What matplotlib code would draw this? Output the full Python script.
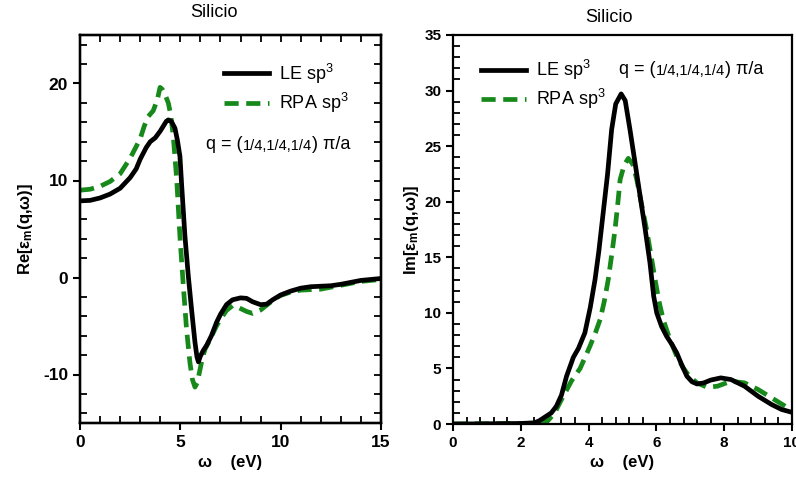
import numpy as np
import matplotlib
matplotlib.use("Agg")
import matplotlib.pyplot as plt
from matplotlib.ticker import MultipleLocator

plt.rcParams['font.family'] = ['Liberation Sans', 'DejaVu Sans']
plt.rcParams['mathtext.fontset'] = 'custom'
plt.rcParams['mathtext.rm'] = 'Liberation Sans'
plt.rcParams['mathtext.it'] = 'Liberation Sans:italic'
plt.rcParams['mathtext.bf'] = 'Liberation Sans:bold'
plt.rcParams['axes.unicode_minus'] = False

# Parte real - LE sp3
re_le_w = [0, 0.5, 1, 1.5, 2, 2.5, 2.8, 3.0, 3.3, 3.5, 3.75, 4.0, 4.15, 4.3, 4.4, 4.55, 4.73,
           4.85, 4.98, 5.07, 5.23, 5.4, 5.56, 5.73, 5.83, 5.9, 6.0, 6.15, 6.31, 6.55, 6.81, 7.0,
           7.3, 7.6, 8.0, 8.3, 8.6, 9.0, 9.3, 9.6, 10, 10.5, 11, 11.5, 12, 12.5, 13, 13.5, 14,
           14.5, 15]
re_le = [7.9, 7.95, 8.2, 8.6, 9.2, 10.3, 11.2, 12.2, 13.4, 14.0, 14.4, 15.1, 15.6, 16.1, 16.25,
         16.1, 15.4, 14.2, 12.5, 9.4, 4.25, 0.1, -3.3, -6.7, -8.2, -8.7, -8.1, -7.5, -7.0, -6.0,
         -4.6, -3.8, -2.8, -2.3, -2.1, -2.15, -2.5, -2.8, -2.75, -2.3, -1.8, -1.4, -1.1, -0.95,
         -0.9, -0.85, -0.7, -0.5, -0.3, -0.2, -0.1]

# Parte real - RPA sp3
re_rpa_w = [0, 0.5, 1, 1.5, 2, 2.5, 2.8, 3.0, 3.2, 3.4, 3.65, 3.85, 3.99, 4.1, 4.25, 4.4, 4.52,
            4.65, 4.82, 4.98, 5.15, 5.31, 5.48, 5.6, 5.73, 5.85, 5.98, 6.1, 6.23, 6.5, 6.8, 7.0,
            7.3, 7.6, 7.8, 8.0, 8.3, 8.6, 9.0, 9.4, 9.7, 10, 10.5, 11, 11.5, 12, 12.5, 13, 13.5,
            14, 14.5, 15]
re_rpa = [9.0, 9.1, 9.4, 9.9, 10.7, 12.3, 13.5, 14.3, 15.6, 16.6, 17.2, 18.3, 19.6, 19.4, 18.8,
          18.0, 16.8, 14.5, 10.1, 4.25, -0.9, -5.35, -8.8, -10.5, -11.3, -10.8, -9.5, -8.3, -7.4,
          -6.3, -5.0, -4.3, -3.4, -2.9, -3.0, -3.2, -3.5, -3.7, -3.35, -2.7, -2.2, -1.85, -1.5,
          -1.3, -1.25, -1.2, -1.0, -0.8, -0.6, -0.4, -0.3, -0.2]

# Parte imaginaria - LE sp3
im_le_w = [0, 1, 2, 2.4, 2.55, 2.7, 2.9, 3.05, 3.2, 3.35, 3.55, 3.7, 3.89, 4.05, 4.19, 4.3,
           4.43, 4.56, 4.68, 4.8, 4.96, 5.08, 5.22, 5.37, 5.52, 5.67, 5.81, 5.92, 6.01, 6.15,
           6.3, 6.45, 6.6, 6.75, 6.9, 7.05, 7.2, 7.4, 7.6, 7.9, 8.2, 8.6, 9.0, 9.4, 9.7, 10]
im_le = [0.0, 0.02, 0.05, 0.1, 0.3, 0.6, 1.0, 1.6, 2.6, 4.3, 6.0, 6.8, 8.2, 10.5, 13.0, 15.5,
         19.0, 22.5, 26.5, 28.8, 29.7, 29.1, 26.5, 23.5, 20.5, 17.5, 14.5, 11.5, 10.0, 8.8, 7.9,
         7.2, 6.4, 5.3, 4.3, 3.8, 3.6, 3.7, 3.95, 4.15, 4.0, 3.4, 2.5, 1.75, 1.3, 1.05]

# Parte imaginaria - RPA sp3
im_rpa_w = [0, 1, 2, 2.6, 2.8, 3.0, 3.2, 3.5, 3.75, 4.04, 4.2, 4.34, 4.46, 4.58, 4.68, 4.78,
            4.86, 4.93, 5.05, 5.17, 5.3, 5.42, 5.56, 5.71, 5.84, 5.96, 6.08, 6.2, 6.4, 6.6, 6.8,
            7.0, 7.2, 7.5, 7.8, 8.2, 8.6, 9.0, 9.4, 9.8, 10]
im_rpa = [0.0, 0.02, 0.04, 0.1, 0.3, 1.0, 2.2, 3.9, 5.0, 7.0, 8.2, 9.4, 11.0, 13.0, 15.2, 17.5,
          19.8, 22.0, 23.3, 23.9, 23.4, 22.0, 19.8, 17.5, 15.2, 13.0, 11.0, 9.4, 7.6, 6.1, 5.0,
          4.2, 3.7, 3.3, 3.4, 3.85, 3.7, 3.1, 2.35, 1.6, 1.3]

verde = '#16891a'
W, H = 796, 488

fig = plt.figure(figsize=(W / 100, H / 100), dpi=100)


def eixos(l, r, t, b):
    return fig.add_axes([l / W, (H - b) / H, (r - l) / W, (b - t) / H])


def q_texto(ax, x, y):
    t1 = ax.text(x, y, "q = (", transform=ax.transAxes, fontsize=13, va='baseline')
    t2 = ax.annotate("1/4,1/4,1/4", xy=(1, 0), xycoords=t1, fontsize=10.5, va='bottom')
    ax.annotate(") π/a", xy=(1, 0), xycoords=t2, fontsize=13, va='bottom')


def estilo(ax, xmaj, xmin, ymaj, ymin, lsize, lados):
    for s in ax.spines.values():
        s.set_linewidth(1.6)
    ax.xaxis.set_major_locator(MultipleLocator(xmaj))
    ax.xaxis.set_minor_locator(MultipleLocator(xmin))
    ax.yaxis.set_major_locator(MultipleLocator(ymaj))
    ax.yaxis.set_minor_locator(MultipleLocator(ymin))
    ax.tick_params(which='major', direction='out', length=5, width=1.5,
                   labelsize=lsize, top=False, right=False)
    ax.tick_params(which='minor', direction='in', length=5, width=1.3,
                   top=False, right=False)
    for lab in ax.get_xticklabels() + ax.get_yticklabels():
        lab.set_fontweight('bold')
    if lados:
        # ticks para dentro no topo e na direita
        ax2 = ax.twinx()
        ax2.set_ylim(ax.get_ylim())
        ax2.yaxis.set_major_locator(MultipleLocator(ymaj))
        ax2.yaxis.set_minor_locator(MultipleLocator(ymin))
        ax2.tick_params(which='both', direction='in', length=5, width=1.3, labelright=False)
        ax3 = ax.twiny()
        ax3.set_xlim(ax.get_xlim())
        ax3.xaxis.set_major_locator(MultipleLocator(xmaj))
        ax3.xaxis.set_minor_locator(MultipleLocator(xmin))
        ax3.tick_params(which='both', direction='in', length=5, width=1.3, labeltop=False)
        for a in (ax2, ax3):
            for s in a.spines.values():
                s.set_linewidth(1.6)


# 1. Parte real
ax1 = eixos(80, 381, 35, 423)
ax1.plot(re_le_w, re_le, color='black', lw=3.4, label='LE sp$^3$', zorder=3)
ax1.plot(re_rpa_w, re_rpa, color=verde, lw=3.4, ls=(0, (3, 1.6)), label='RPA sp$^3$', zorder=2)
ax1.set_xlim(0, 15)
ax1.set_ylim(-15, 25)
ax1.set_title('Silicio', fontsize=13, x=0.445, pad=13)
ax1.set_xlabel('ω    (eV)', fontsize=12, fontweight='bold', labelpad=4)
ax1.set_ylabel(r'Re[ε$_\mathbf{m}$(q,ω)]', fontsize=12, fontweight='bold', labelpad=6)
estilo(ax1, 5, 1, 10, 2, 12.5, True)
ax1.legend(loc='upper left', bbox_to_anchor=(0.455, 0.95), frameon=False, fontsize=13,
           handlelength=2.5, handletextpad=0.55, labelspacing=0.3, borderaxespad=0)
q_texto(ax1, 0.42, 0.705)

# 2. Parte imaginaria
ax2 = eixos(453, 792, 35, 424)
ax2.plot(im_le_w, im_le, color='black', lw=3.4, label='LE sp$^3$', zorder=3)
ax2.plot(im_rpa_w, im_rpa, color=verde, lw=3.4, ls=(0, (3, 1.6)), label='RPA sp$^3$', zorder=2)
ax2.set_xlim(0, 10)
ax2.set_ylim(0, 35)
ax2.set_title('Silicio', fontsize=13, x=0.46, pad=9)
ax2.set_xlabel('ω    (eV)', fontsize=12, fontweight='bold', labelpad=4)
ax2.set_ylabel(r'Im[ε$_\mathbf{m}$(q,ω)]', fontsize=12, fontweight='bold', labelpad=2)
estilo(ax2, 2, 0.4, 5, 1, 11, False)
ax2.legend(loc='upper left', bbox_to_anchor=(0.06, 0.96), frameon=False, fontsize=13,
           handlelength=2.5, handletextpad=0.55, labelspacing=0.3, borderaxespad=0)
q_texto(ax2, 0.49, 0.9)

fig.savefig('out.png', dpi=100)
